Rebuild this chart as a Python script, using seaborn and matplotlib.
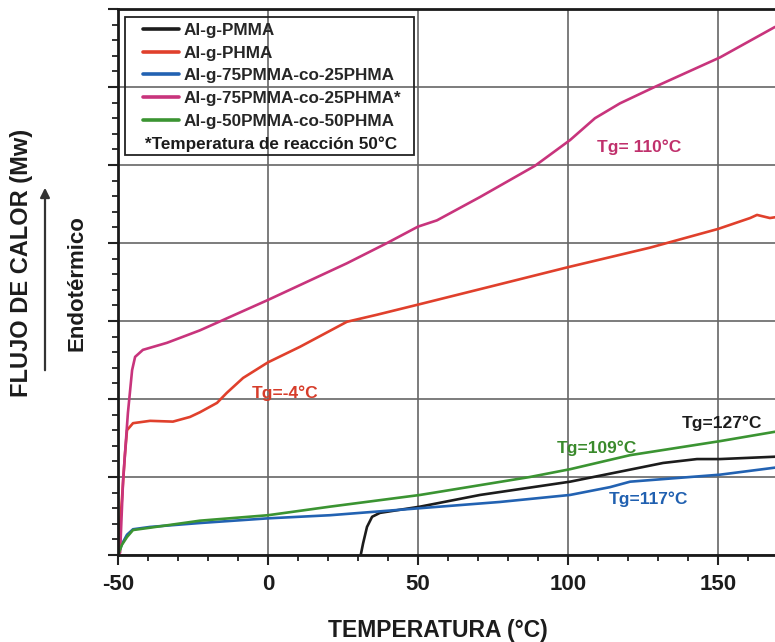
import numpy as np
import pandas as pd
import matplotlib
matplotlib.use("Agg")
import matplotlib.pyplot as plt
from matplotlib.lines import Line2D
from matplotlib.patches import Rectangle, FancyArrowPatch
from matplotlib.ticker import MultipleLocator
import seaborn as sns

# ---------------- data ----------------
series_names = ["Al-g-PMMA", "Al-g-PHMA", "Al-g-75PMMA-co-25PHMA",
                "Al-g-75PMMA-co-25PHMA*", "Al-g-50PMMA-co-50PHMA"]
note_label = "*Temperatura de reacción 50°C"

pmma_x = [29.5, 30.7, 31.7, 33.0, 34.7, 37.3, 50.7, 70.7, 100.7, 124.0, 131.7, 143.0, 150.7, 169.0]
pmma_y = [-0.1, -0.04, 0.15, 0.36, 0.49, 0.54, 0.62, 0.77, 0.94, 1.12, 1.18, 1.23, 1.23, 1.26]

phma_x = [-50.0, -48.7, -47.7, -47.0, -45.0, -39.3, -31.7, -26.0, -22.7, -17.0, -13.7, -8.3,
          0.0, 10.7, 26.3, 36.3, 50.0, 74.0, 100.0, 127.3, 150.0, 160.7, 163.0, 167.3, 169.0]
phma_y = [0.0, 0.71, 1.28, 1.60, 1.69, 1.72, 1.71, 1.77, 1.83, 1.95, 2.08, 2.27,
          2.47, 2.67, 2.99, 3.08, 3.21, 3.44, 3.69, 3.94, 4.18, 4.32, 4.36, 4.32, 4.33]

co75_x = [-50.0, -48.7, -47.0, -45.0, -39.3, -22.7, 0.0, 20.7, 50.7, 77.3, 100.7, 114.0, 120.7, 150.7, 169.0]
co75_y = [0.0, 0.14, 0.26, 0.33, 0.36, 0.41, 0.47, 0.51, 0.60, 0.68, 0.77, 0.87, 0.94, 1.03, 1.12]

co75s_x = [-50.0, -49.3, -48.3, -46.7, -45.3, -44.3, -41.7, -33.7, -22.7, 0.0, 26.3, 39.7,
           50.0, 56.3, 70.7, 89.0, 100.7, 109.0, 117.3, 128.3, 150.7, 169.0]
co75s_y = [0.0, 0.03, 0.96, 1.82, 2.37, 2.54, 2.63, 2.72, 2.88, 3.27, 3.74, 4.00,
           4.21, 4.29, 4.59, 4.99, 5.32, 5.60, 5.79, 5.99, 6.38, 6.77]

co50_x = [-50.0, -48.7, -47.0, -45.0, -39.3, -22.7, 0.0, 20.7, 50.7, 87.3, 100.7, 120.7, 150.7, 169.0]
co50_y = [0.0, 0.13, 0.23, 0.32, 0.35, 0.44, 0.51, 0.62, 0.77, 1.00, 1.10, 1.28, 1.46, 1.58]

tg_texts = ["Tg=127°C", "Tg=-4°C", "Tg=117°C", "Tg= 110°C", "Tg=109°C"]
tg_x = [151.3, 5.7, 126.7, 123.7, 109.7]
tg_y = [1.69, 2.08, 0.71, 5.23, 1.37]

x_ticks = [-50, 0, 50, 100, 150]

# ---------------- styles ----------------
colors = ["#1c1c1c", "#e0402c", "#2262b2", "#c8347c", "#3b9432"]
text_colors = ["#1c1c1c", "#d63c2a", "#2060b0", "#c0306c", "#3a8a2c"]

frames = []
for name, xs, ys in zip(series_names,
                        [pmma_x, phma_x, co75_x, co75s_x, co50_x],
                        [pmma_y, phma_y, co75_y, co75s_y, co50_y]):
    frames.append(pd.DataFrame({"T": xs, "Q": ys, "serie": name}))
df = pd.concat(frames, ignore_index=True)

sns.set_style("white")
plt.rcParams["font.family"] = ["Liberation Sans", "DejaVu Sans"]
plt.rcParams["font.weight"] = "bold"

W, H = 775, 642
fig = plt.figure(figsize=(W / 100, H / 100), dpi=100)
ax_left, ax_bottom = 118 / W, (H - 555) / H
ax_top = (H - 9) / H
ax = fig.add_axes([ax_left, ax_bottom, 1.0 - ax_left, ax_top - ax_bottom])

sns.lineplot(data=df, x="T", y="Q", hue="serie", hue_order=series_names,
             palette=colors, estimator=None, sort=False, linewidth=1.9,
             legend=False, ax=ax)

ax.set_xlim(-50, 169)
ax.set_ylim(0, 7)
ax.xaxis.set_major_locator(MultipleLocator(50))
ax.xaxis.set_minor_locator(MultipleLocator(10))
ax.yaxis.set_major_locator(MultipleLocator(1))
ax.yaxis.set_minor_locator(MultipleLocator(0.2))
ax.set_xticks(x_ticks)
ax.set_xticklabels([str(t) for t in x_ticks], fontsize=16, fontweight="bold",
                   color="#1c1c1c")
ax.tick_params(axis="both", which="both", bottom=True, left=True, top=False, right=False)
ax.tick_params(axis="both", which="major", direction="out", length=7, width=1.5,
               color="#222222", pad=7)
ax.tick_params(axis="both", which="minor", direction="out", length=4.5, width=1.3,
               color="#222222")
ax.tick_params(axis="y", which="both", labelleft=False)

ax.grid(True, which="major", color="#666666", linewidth=1.2)
ax.grid(False, which="minor")
ax.set_axisbelow(True)
for side in ["left", "bottom", "top"]:
    ax.spines[side].set_visible(True)
    ax.spines[side].set_color("#1a1a1a")
    ax.spines[side].set_linewidth(2.0)
ax.spines["right"].set_visible(False)
ax.set_xlabel("")
ax.set_ylabel("")

# Tg annotations
for t, x, y, c in zip(tg_texts, tg_x, tg_y, text_colors):
    ax.text(x, y, t, color=c, fontsize=12.5, fontweight="bold", ha="center", va="center")

# legend (frame drawn separately for the wider side padding)
handles = [Line2D([], [], color=c, lw=2.6) for c in colors]
handles.append(Line2D([], [], color="none", lw=0))
labels = series_names + [" "]
leg = ax.legend(handles, labels, loc="upper left",
                bbox_to_anchor=((143 - 118) / (W - 118), (555 - 23) / (555 - 9)),
                prop={"family": ["Liberation Sans", "DejaVu Sans"], "weight": "bold", "size": 12.3},
                frameon=False, handlelength=2.1, handletextpad=0.3, labelspacing=0.45,
                borderpad=0.0, borderaxespad=0.0)

fig.canvas.draw()
renderer = fig.canvas.get_renderer()
leg_bb = leg.get_window_extent(renderer)
txt_bb = leg.get_texts()[-1].get_window_extent(renderer)
ycen = (txt_bb.y0 + txt_bb.y1) / 2
fig.text((leg_bb.x0 + 2) / W, ycen / H, note_label, fontsize=12.3, fontweight="bold",
         color="#1c1c1c", ha="left", va="center")
fig.add_artist(Rectangle(((leg_bb.x0 - 18) / W, (leg_bb.y0 - 4) / H),
                         (leg_bb.width + 30) / W, (leg_bb.height + 10) / H,
                         transform=fig.transFigure, facecolor="none",
                         edgecolor="#222222", linewidth=1.3, zorder=10))

# axis titles
fig.text(438 / W, (H - 630) / H, "TEMPERATURA (°C)", fontsize=16.5, fontweight="bold",
         ha="center", va="center", color="#1c1c1c")
fig.text(22 / W, (H - 263) / H, "FLUJO DE CALOR (Mw)", fontsize=17, fontweight="bold",
         rotation=90, ha="center", va="center", color="#1c1c1c")
fig.text(77 / W, (H - 283) / H, "Endotérmico", fontsize=16, fontweight="bold",
         rotation=90, ha="center", va="center", color="#1c1c1c")
fig.add_artist(FancyArrowPatch(
    (45 / W, (H - 373) / H), (45 / W, (H - 185) / H), transform=fig.transFigure,
    arrowstyle="-|>", mutation_scale=14, color="#333333", linewidth=1.6))

fig.savefig("out.png", dpi=100)
